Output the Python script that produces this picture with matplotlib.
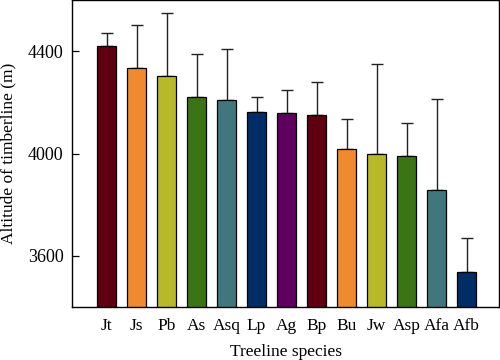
import matplotlib
matplotlib.use("Agg")
import matplotlib.pyplot as plt

# treeline species and mean timberline altitude (m), with upper error (SD)
species = ['Jt', 'Js', 'Pb', 'As', 'Asq', 'Lp', 'Ag', 'Bp', 'Bu', 'Jw', 'Asp', 'Afa', 'Afb']
altitude = [4420, 4334, 4303, 4221, 4211, 4164, 4157, 4152, 4018, 3999, 3990, 3858, 3538]
err_top = [4471, 4502, 4551, 4389, 4408, 4221, 4249, 4280, 4134, 4349, 4120, 4215, 3668]
errors = [t - a for t, a in zip(err_top, altitude)]

palette = ['#5E000F', '#F08A2E', '#B8B928', '#3A7414', '#3F777C', '#002D66', '#5F0060']
colors = [palette[i % 7] for i in range(len(species))]

plt.rcParams['font.family'] = ['Liberation Serif', 'DejaVu Serif']

fig = plt.figure(figsize=(5, 3.6), dpi=100)
ax = fig.add_axes([0.144, 0.147, 0.854, 0.853])

x = list(range(len(species)))
ax.bar(x, altitude, width=0.62, color=colors, edgecolor='black', linewidth=0.9,
       zorder=2)
ax.errorbar(x, altitude, yerr=[[0] * len(errors), errors], fmt='none',
            ecolor='#222222', elinewidth=1.0, capsize=4.5, capthick=1.0, zorder=1)

ax.set_ylim(3400, 4600)
ax.set_xlim(-1.15, 13.08)
ax.set_yticks([3600, 4000, 4400])
ax.set_xticks(x)
ax.set_xticklabels(species)
ax.tick_params(axis='y', direction='in', length=5, labelsize=13, width=0.9, pad=6)
ax.tick_params(axis='x', length=0, labelsize=12.5, pad=8)
for s in ax.spines.values():
    s.set_linewidth(1.0)

ax.set_xlabel('Treeline species', fontsize=12.5, labelpad=7)
ax.set_ylabel('Altitude of timberline (m)', fontsize=12.5, labelpad=8)

fig.savefig('out.png', dpi=100)
